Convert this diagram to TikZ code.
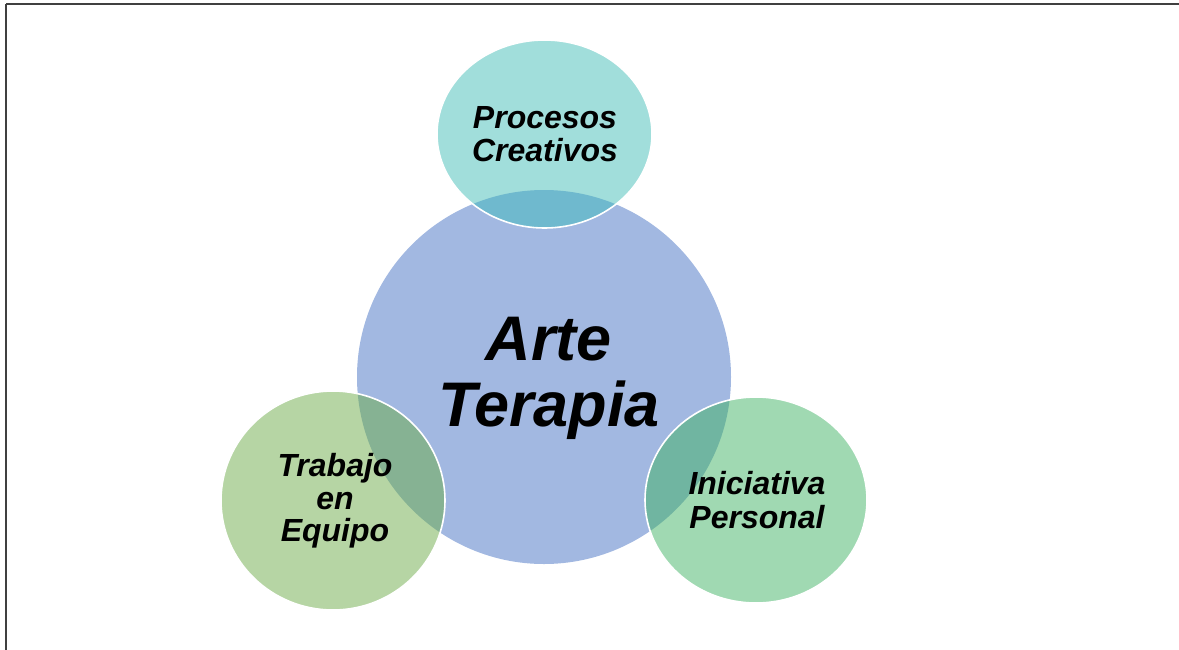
\documentclass[tikz,border=0pt]{standalone}
\usepackage{fontspec}
\newfontfamily\arialf{Liberation Sans}
\definecolor{mainblue}{HTML}{A2B8E1}
\definecolor{topc}{HTML}{A1DEDB}
\definecolor{topov}{HTML}{6FB9CE}
\definecolor{leftc}{HTML}{B6D5A4}
\definecolor{leftov}{HTML}{86B293}
\definecolor{rightc}{HTML}{A0D9B2}
\definecolor{rightov}{HTML}{70B5A1}
\definecolor{framec}{HTML}{404040}
\begin{document}
\begin{tikzpicture}[x=1pt,y=-1pt,
  lbl/.style={font=\arialf\bfseries\itshape, align=center, text=black, inner sep=0pt},
  ring/.style={draw=white, line width=1.6pt}]
\useasboundingbox (0,0) rectangle (1179,649);
\draw[framec, line width=1.3pt] (6,4) -- (1185,4);
\draw[framec, line width=1.3pt] (6,4) -- (6,655);
% main circle
\fill[mainblue] (544,377) circle [radius=187];
% satellites
\fill[topc] (544.5,134) ellipse [x radius=107.5, y radius=94];
\fill[leftc] (333,500.5) ellipse [x radius=112, y radius=109.5];
\fill[rightc] (756,500) ellipse [x radius=111, y radius=103];
% overlaps
\begin{scope}
  \clip (544,377) circle [radius=187];
  \fill[topov] (544.5,134) ellipse [x radius=107.5, y radius=94];
  \fill[leftov] (333,500.5) ellipse [x radius=112, y radius=109.5];
  \fill[rightov] (756,500) ellipse [x radius=111, y radius=103];
\end{scope}
\draw[ring] (544.5,134) ellipse [x radius=107.5, y radius=94];
\draw[ring] (333,500.5) ellipse [x radius=112, y radius=109.5];
\draw[ring] (756,500) ellipse [x radius=111, y radius=103];
% labels
\node[lbl, font=\arialf\bfseries\itshape\fontsize{63}{66}\selectfont] (main) at (549,378) {Arte\\Terapia};
\node[lbl, font=\arialf\bfseries\itshape\fontsize{32}{33}\selectfont] (top) at (545,134) {Procesos\\Creativos};
\node[lbl, font=\arialf\bfseries\itshape\fontsize{32}{32.5}\selectfont] (left) at (335,501) {Trabajo\\en\\Equipo};
\node[lbl, font=\arialf\bfseries\itshape\fontsize{32}{34}\selectfont] (right) at (757,500) {Iniciativa\\Personal};
\end{tikzpicture}
\end{document}
